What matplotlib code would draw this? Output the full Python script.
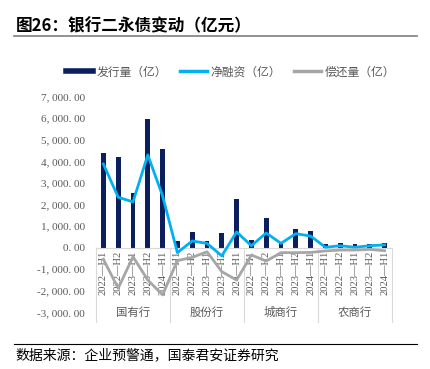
import numpy as np
import matplotlib
matplotlib.use("Agg")
import matplotlib.pyplot as plt
from matplotlib.lines import Line2D

plt.rcParams['font.family'] = ['Noto Sans CJK SC', 'DejaVu Sans']

groups = ["国有行", "股份行", "城商行", "农商行"]
periods = ["2022—H1", "2022—H2", "2023—H1", "2023—H2", "2024—H1"]
issue = [4400, 4200, 2550, 5950, 4560,
         310, 720, 310, 680, 2240,
         340, 1360, 250, 870, 780,
         170, 200, 160, 160, 200]
net = [3880, 2340, 2120, 4300, 2400,
       -230, 310, 200, -380, 730,
       90, 680, 200, 650, 540,
       20, 90, 20, 90, 130]
repay = [-540, -1880, -420, -1500, -2190,
         -600, -450, -190, -1110, -1500,
         -340, -620, -230, -230, -220,
         -150, -110, -110, -80, -140]

navy = "#0b1f5e"
blue = "#00b0f0"
gray = "#a6a6a6"
txt = "#595959"

fig = plt.figure(figsize=(4.31, 3.69), dpi=100)
ax = fig.add_axes([0.2227, 0.1534, 0.6868, 0.5846])

x = np.arange(len(issue))
ax.bar(x, issue, width=0.32, color=navy, zorder=2)
ax.plot(x, net, color=blue, lw=2.0, zorder=3)
ax.plot(x, repay, color=gray, lw=2.0, zorder=3)

for s in ['top', 'right', 'left']:
    ax.spines[s].set_visible(False)
ax.spines['bottom'].set_position(('data', 0))
ax.spines['bottom'].set_color("#d9d9d9")

ax.set_xlim(-0.5, len(issue) - 0.5)
ax.set_ylim(-3000, 7000)
yt = np.arange(-3000, 7001, 1000)
ax.set_yticks(yt)
ax.set_yticklabels([f"{v:,.2f}".replace(",", ", ").replace(".", ". ") for v in yt],
                   color=txt, fontsize=8, family='Liberation Serif')
ax.tick_params(axis='y', length=0, pad=8)

ax.set_xticks(x)
ax.set_xticklabels(periods * len(groups), rotation=90, fontsize=7.6,
                   color=txt, va='top', family='Liberation Serif')
ax.tick_params(axis='x', length=0, pad=2)

# group boxes below the zero line
for b in [-0.5, 4.5, 9.5, 14.5, 19.5]:
    ax.plot([b, b], [0, -3450], color="#d9d9d9", lw=0.8, clip_on=False, zorder=1)
for i, g in enumerate(groups):
    ax.text(i * 5 + 2, -3000, g, ha='center', va='center', fontsize=8.2, color=txt)

handles = [Line2D([], [], color=navy, lw=4),
           Line2D([], [], color=blue, lw=2.5),
           Line2D([], [], color=gray, lw=2.5)]
labels = ["发行量（亿）", "净融资（亿）", "偿还量（亿）"]
leg = fig.legend(handles, labels, loc='center', bbox_to_anchor=(0.535, 0.805),
                 ncol=3, frameon=False, fontsize=8.5, handlelength=2.3,
                 handletextpad=0.3, columnspacing=1.1)
for t in leg.get_texts():
    t.set_color(txt)

fig.text(0.037, 0.93, "图26：银行二永债变动（亿元）", fontsize=12,
         fontweight='bold', va='center', ha='left')
fig.add_artist(Line2D([0.033, 0.967], [0.902, 0.902], color="#7f7f7f", lw=1.2))
fig.add_artist(Line2D([0.033, 0.967], [0.068, 0.068], color="#000000", lw=0.8))
fig.text(0.035, 0.038, "数据来源：企业预警通，国泰君安证券研究", fontsize=10,
         va='center', ha='left')

fig.savefig("out.png", dpi=100)
